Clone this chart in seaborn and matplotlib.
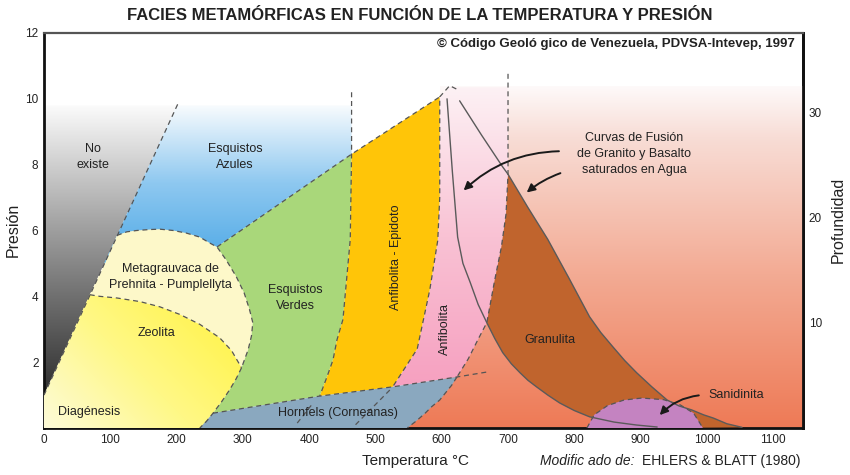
import matplotlib
matplotlib.use("Agg")
import matplotlib.pyplot as plt
import numpy as np
import seaborn as sns
from matplotlib.patches import Polygon
from matplotlib.colors import LinearSegmentedColormap

# facies regions (temperature °C, pressure kbar)
gray_T = [0, 200, 0]
gray_P = [1, 9.8, 9.8]

blue_T = [69, 200, 464, 464, 261, 175]
blue_P = [4.05, 9.8, 9.8, 8.32, 5.5, 3.5]

cream_T = [69, 92, 110, 125, 140, 160, 175, 195, 215, 235, 250, 261, 275, 290, 302, 310, 315, 313, 308, 298,
           283, 265, 235, 205, 175, 145, 110, 84]
cream_P = [4.05, 5.0, 5.85, 5.96, 6.0, 6.03, 6.04, 6.0, 5.92, 5.8, 5.62, 5.5, 5.1, 4.6, 4.1, 3.6, 3.2, 2.8, 2.38,
           1.83, 2.35, 2.74, 3.15, 3.45, 3.68, 3.84, 3.95, 4.0]

zeol_T = [0, 0, 69, 84, 110, 145, 175, 205, 235, 265, 283, 298, 290, 280, 268, 255, 245, 235]
zeol_P = [0, 1, 4.05, 4.0, 3.95, 3.84, 3.68, 3.45, 3.15, 2.74, 2.35, 1.83, 1.5, 1.16, 0.8, 0.45, 0.2, 0]

green_T = [261, 464, 462, 451, 442, 436, 427, 416, 255, 268, 280, 290, 298, 308, 313, 315, 310, 302, 290, 275]
green_P = [5.5, 8.32, 5.73, 3.3, 2.68, 2.07, 1.56, 0.97, 0.45, 0.8, 1.16, 1.5, 1.83, 2.38, 2.8, 3.2, 3.6, 4.1,
           4.6, 5.1]

yellow_T = [464, 597, 597, 594, 582, 563, 526, 416, 427, 436, 442, 451, 462]
yellow_P = [8.32, 10.06, 7.0, 5.7, 4.2, 2.4, 1.25, 0.97, 1.56, 2.07, 2.68, 3.3, 5.73]

horn_T = [235, 255, 416, 526, 623, 615, 605, 597, 585, 575, 562, 548]
horn_P = [0, 0.45, 0.97, 1.25, 1.55, 1.3, 1.05, 0.85, 0.65, 0.45, 0.22, 0]

salmon_T = [548, 1145, 1145, 597, 597]
salmon_P = [0, 0, 10.4, 10.4, 1.0]

pink_T = [597, 612, 700, 700, 697, 690, 680, 668, 655, 640, 623, 526, 563, 582, 594, 597]
pink_P = [10.06, 10.35, 10.35, 7.71, 6.5, 5.5, 4.5, 3.2, 2.7, 2.1, 1.55, 1.25, 2.4, 4.2, 5.7, 7.0]

# melting curves (solid)
granite_T = [608, 616, 624, 632, 643, 655, 668, 680, 692, 705, 718, 730, 743, 760, 778, 800, 823, 860, 894, 925]
granite_P = [10.0, 7.8, 5.8, 5.0, 4.42, 3.75, 3.2, 2.72, 2.29, 1.95, 1.68, 1.45, 1.25, 1.0, 0.76, 0.53, 0.34,
             0.18, 0.09, 0.03]
basalt_T = [627, 660, 692, 700, 730, 760, 792, 823, 840, 858, 876, 894, 917, 940, 958, 977, 995, 1010, 1030, 1053]
basalt_P = [9.94, 8.9, 7.93, 7.71, 6.7, 5.73, 4.55, 3.38, 2.9, 2.47, 2.05, 1.68, 1.25, 0.85, 0.67, 0.55, 0.4,
            0.3, 0.13, 0.02]

brown_T = basalt_T[3:] + [918, 894, 860, 823, 800, 778, 760, 743, 730, 718, 705, 692, 680, 668, 680, 690, 697]
brown_P = basalt_P[3:] + [0.0, 0.09, 0.18, 0.34, 0.53, 0.76, 1.0, 1.25, 1.45, 1.68, 1.95, 2.29, 2.72, 3.2, 4.5,
                          5.5, 6.5]

sani_T = [819, 830, 850, 875, 902, 935, 960, 980, 994]
sani_P = [0, 0.4, 0.68, 0.85, 0.91, 0.86, 0.7, 0.45, 0]

# dashed facies boundaries
dashed = [
    ([0, 202], [1, 9.85]),
    ([261, 464, 597], [5.5, 8.32, 10.06]),
    ([464, 464, 462, 451, 442, 436, 427, 416], [10.2, 8.32, 5.73, 3.3, 2.68, 2.07, 1.56, 0.97]),
    (cream_T[2:20], cream_P[2:20]),
    (zeol_T[2:12], zeol_P[2:12]),
    (zeol_T[11:], zeol_P[11:]),
    ([255, 416, 526, 623, 668], [0.45, 0.97, 1.25, 1.55, 1.7]),
    (horn_T[4:], horn_P[4:]),
    ([622, 612, 597, 597, 594, 582, 563, 526], [10.3, 10.4, 10.06, 7.0, 5.7, 4.2, 2.4, 1.25]),
    ([382, 406], [0.15, 0.76]),
    ([470, 522], [0.1, 1.16]),
    ([700, 700, 697, 690, 680, 668, 655, 640, 623], [10.76, 7.71, 6.5, 5.5, 4.5, 3.2, 2.7, 2.1, 1.55]),
    (sani_T, sani_P),
]

labels = [
    ("No\nexiste", 74, 8.23, 0),
    ("Esquistos\nAzules", 288, 8.23, 0),
    ("Metagrauvaca de\nPrehnita - Pumplellyta", 190, 4.6, 0),
    ("Zeolita", 170, 2.9, 0),
    ("Diagénesis", 68, 0.49, 0),
    ("Esquistos\nVerdes", 379, 3.96, 0),
    ("Anfibolita - Epidoto", 531, 5.2, 90),
    ("Anfibolita", 605, 3.0, 90),
    ("Granulita", 763, 2.68, 0),
    ("Sanidinita", 1045, 1.0, 0),
    ("Hornfels (Corneanas)", 443, 0.46, 0),
    ("Curvas de Fusión\nde Granito y Basalto\nsaturados en Agua", 890, 8.32, 0),
]

arrows = [((781, 8.41), (630, 7.16), 0.2), ((783, 7.77), (725, 7.1), 0.1), ((992, 1.0), (926, 0.33), 0.2)]

x_ticks = list(range(0, 1101, 100))
y_ticks = [2, 4, 6, 8, 10, 12]
depth_ticks = [10, 20, 30]

sns.set_theme(style="white")
plt.rcParams['font.family'] = ['Liberation Sans', 'DejaVu Sans']

fig = plt.figure(figsize=(8.5, 4.75), dpi=100)
ax = fig.add_axes([44 / 850, 47 / 475, 759 / 850, 395 / 475])


def fill(t, p, color, z):
    ax.add_patch(Polygon(np.column_stack([t, p]), closed=True, facecolor=color, edgecolor='none', zorder=z))


def grad_fill(t, p, stops, y0, y1, z):
    poly = Polygon(np.column_stack([t, p]), closed=True, facecolor='none', edgecolor='none', zorder=z)
    ax.add_patch(poly)
    cmap = LinearSegmentedColormap.from_list('g', stops)
    g = np.linspace(0, 1, 256).reshape(-1, 1)
    im = ax.imshow(g, extent=[min(t), max(t), y0, y1], origin='lower', cmap=cmap,
                   aspect='auto', zorder=z, interpolation='bilinear')
    im.set_clip_path(poly)


grad_fill(salmon_T, salmon_P, [(0, '#ee7a56'), (0.45, '#f3ab94'), (0.85, '#f8ddd6'), (1, '#fefafa')], 0, 10.4, 1)
grad_fill(gray_T, gray_P, [(0, '#2e2e2e'), (0.35, '#727272'), (0.6, '#a5a5a5'), (1, '#fbfbfb')], 1, 9.8, 1)
grad_fill(blue_T, blue_P, [(0, '#4fa9e6'), (0.5, '#8ec8f0'), (1, '#fbfdfe')], 5.0, 9.85, 1)
fill(cream_T, cream_P, '#fdf8c9', 2)

# zeolita / diagenesis diagonal gradient
zpoly = Polygon(np.column_stack([zeol_T, zeol_P]), closed=True, facecolor='none', edgecolor='none', zorder=3)
ax.add_patch(zpoly)
gx, gy = np.meshgrid(np.linspace(0, 1, 200), np.linspace(0, 1, 200))
zim = ax.imshow(0.6 * gx + 0.4 * gy, extent=[0, 300, 0, 4.1], origin='lower',
                cmap=LinearSegmentedColormap.from_list('z', [(0, '#fdfbd8'), (0.45, '#fff886'), (1, '#fff23c')]),
                aspect='auto', zorder=3)
zim.set_clip_path(zpoly)

fill(green_T, green_P, '#a9d77a', 3)
fill(yellow_T, yellow_P, '#ffc508', 3)
fill(horn_T, horn_P, '#8aa8bf', 3)
grad_fill(pink_T, pink_P, [(0, '#f6a0c0'), (0.5, '#f9c2d4'), (1, '#fdf2f5')], 1.2, 10.4, 2)
fill(brown_T, brown_P, '#c0642d', 3)
fill(sani_T, sani_P, '#c483c1', 4)

for t, p in dashed:
    sns.lineplot(x=t, y=p, sort=False, estimator=None, ax=ax, color='#555555',
                 lw=0.9, linestyle=(0, (4, 3)), zorder=5)
for t, p in [(granite_T, granite_P), (basalt_T, basalt_P)]:
    sns.lineplot(x=t, y=p, sort=False, estimator=None, ax=ax, color='#5a5a5a', lw=1.0, zorder=5)

for txt, x, y, rot in labels:
    ax.text(x, y, txt, ha='center', va='center', rotation=rot, fontsize=9,
            color='#222222', linespacing=1.45, zorder=6)

for tail, head, rad in arrows:
    ax.annotate('', xy=head, xytext=tail, zorder=6,
                arrowprops=dict(arrowstyle='-|>', color='#1a1a1a', lw=1.4, mutation_scale=12,
                                connectionstyle=f'arc3,rad={rad}'))

ax.text(0.989, 0.972, '© Código Geoló gico de Venezuela, PDVSA-Intevep, 1997', transform=ax.transAxes,
        ha='right', va='center', fontsize=9.5, fontweight='bold', color='#222222', zorder=6)

ax.set_xlim(0, 1145)
ax.set_ylim(0, 12)
ax.set_xticks(x_ticks)
ax.set_yticks(y_ticks)
ax.tick_params(direction='in', length=4, width=1.3, labelsize=8.5, colors='#222222', pad=4)
for s in ['left', 'bottom', 'right']:
    ax.spines[s].set_color('#111111')
    ax.spines[s].set_linewidth(2)
ax.spines['top'].set_color('#555555')
ax.spines['top'].set_linewidth(1.6)
ax.set_xlabel('')
ax.set_ylabel('')

sec = ax.secondary_yaxis('right', functions=(lambda p: p * 3.13, lambda d: d / 3.13))
sec.set_yticks(depth_ticks)
sec.tick_params(direction='in', length=4, width=1.3, labelsize=8.5, colors='#222222', pad=4)
sec.spines['right'].set_linewidth(2)
sec.spines['right'].set_color('#111111')

fig.text(0.494, 0.968, 'FACIES METAMÓRFICAS EN FUNCIÓN DE LA TEMPERATURA Y PRESIÓN',
         ha='center', va='center', fontsize=12, fontweight='bold', color='#222222')
fig.text(415 / 850, 1 - 461 / 475, 'Temperatura °C', ha='center', va='center', fontsize=11, color='#222222')
fig.text(634 / 850, 1 - 461 / 475, 'Modific ado de:', ha='right', va='center', fontsize=10,
         style='italic', color='#222222')
fig.text(800 / 850, 1 - 461 / 475, 'EHLERS & BLATT (1980)', ha='right', va='center', fontsize=10,
         color='#222222')
fig.text(13 / 850, 1 - 230 / 475, 'Presión', ha='center', va='center', rotation=90, fontsize=11.5,
         color='#222222')
fig.text(838 / 850, 1 - 220 / 475, 'Profundidad', ha='center', va='center', rotation=90, fontsize=11.5,
         color='#222222')

fig.savefig('out.png', dpi=100)
